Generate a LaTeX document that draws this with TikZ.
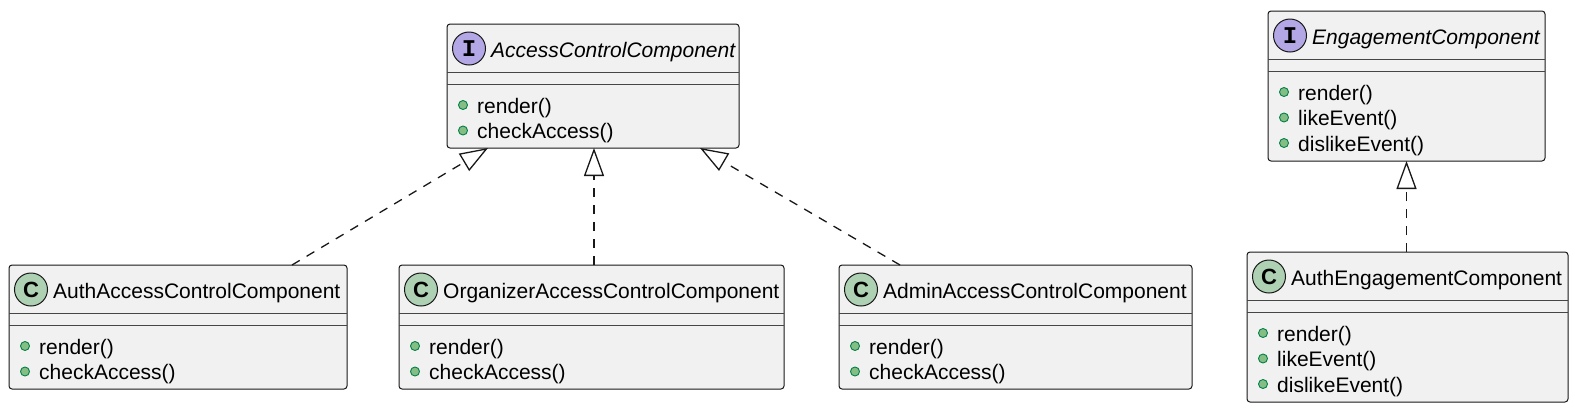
\documentclass[tikz,border=0pt]{standalone}
\usepackage{fontspec}
\setmainfont{Liberation Sans}
\newfontfamily\iconmono{Liberation Mono}
\usetikzlibrary{arrows.meta}
\definecolor{boxfill}{HTML}{F1F1F1}
\definecolor{boxline}{HTML}{181818}
\definecolor{ifill}{HTML}{B4A7E5}
\definecolor{cfill}{HTML}{ADD1B2}
\definecolor{dotfill}{HTML}{84BE84}
\definecolor{dotline}{HTML}{038048}
\tikzset{
  cbox/.style={draw=boxline, fill=boxfill, line width=1pt, rounded corners=3pt, outer sep=0pt, inner sep=0pt},
  sepline/.style={draw=boxline!80, line width=0.9pt},
  iconI/.style={circle, draw=boxline, fill=ifill, line width=1pt, minimum size=33pt, inner sep=0pt,
     font=\iconmono\bfseries\fontsize{24}{24}\selectfont},
  iconC/.style={circle, draw=boxline, fill=cfill, line width=1pt, minimum size=33pt, inner sep=0pt,
     font=\bfseries\fontsize{22}{22}\selectfont},
  clstitle/.style={inner sep=0pt, font=\fontsize{21}{24}\selectfont, text=black},
  mdot/.style={circle, draw=dotline, fill=dotfill, line width=0.9pt, minimum size=9pt, inner sep=0pt},
  mtext/.style={inner sep=0pt, font=\fontsize{21}{24}\selectfont, text=black},
  realize/.style={draw=boxline, line width=1.3pt, dash pattern=on 9pt off 8pt,
     -{Triangle[open, length=28pt, width=20pt, line width=1.3pt]}},
}
\newcommand{\umlbox}[7]{%
  \node[cbox, minimum width=#4pt, minimum height=#5pt, anchor=north west] (#1) at (#2,#3) {};
  \draw[sepline] ([yshift=-48pt]#1.north west) -- ([yshift=-48pt]#1.north east);
  \draw[sepline] ([yshift=-60pt]#1.north west) -- ([yshift=-60pt]#1.north east);
  \node[icon#6] (#1-icon) at ([xshift=22pt,yshift=-24.5pt]#1.north west) {#6};
  \node[clstitle, anchor=base west] (#1-title) at ([xshift=44pt,yshift=-33pt]#1.north west) {#7};
}
\newcommand{\umlmethod}[3]{%
  \node[mdot] (#1-d#2) at ([xshift=16pt,yshift={-(81+25.5*(#2-1))*1pt}]#1.north west) {};
  \node[mtext, anchor=base west] (#1-m#2) at ([xshift=30pt,yshift={-(89+25.5*(#2-1))*1pt}]#1.north west) {#3};
}
\begin{document}
\begin{tikzpicture}[x=1pt,y=-1pt]
\useasboundingbox (0,0) rectangle (1575,408);
% classes
\umlbox{access}{447}{24}{292}{124}{I}{\itshape AccessControlComponent}
\umlmethod{access}{1}{render()}
\umlmethod{access}{2}{checkAccess()}

\umlbox{auth}{9}{265}{338}{124}{C}{AuthAccessControlComponent}
\umlmethod{auth}{1}{render()}
\umlmethod{auth}{2}{checkAccess()}

\umlbox{organizer}{399}{265}{385}{124}{C}{OrganizerAccessControlComponent}
\umlmethod{organizer}{1}{render()}
\umlmethod{organizer}{2}{checkAccess()}

\umlbox{admin}{839}{265}{353}{124}{C}{AdminAccessControlComponent}
\umlmethod{admin}{1}{render()}
\umlmethod{admin}{2}{checkAccess()}

\umlbox{engagement}{1268}{11}{277}{150}{I}{\itshape EngagementComponent}
\umlmethod{engagement}{1}{render()}
\umlmethod{engagement}{2}{likeEvent()}
\umlmethod{engagement}{3}{dislikeEvent()}

\umlbox{autheng}{1247}{252}{321}{150}{C}{AuthEngagementComponent}
\umlmethod{autheng}{1}{render()}
\umlmethod{autheng}{2}{likeEvent()}
\umlmethod{autheng}{3}{dislikeEvent()}

% realizations
\draw[realize] ([xshift=283pt]auth.north west) -- ([xshift=41pt]access.south west);
\draw[realize] ([xshift=195pt]organizer.north west) -- ([xshift=147pt]access.south west);
\draw[realize] ([xshift=61pt]admin.north west) -- ([xshift=253pt]access.south west);
\draw[realize] (autheng.north -| engagement.south) -- (engagement.south);
\end{tikzpicture}
\end{document}
